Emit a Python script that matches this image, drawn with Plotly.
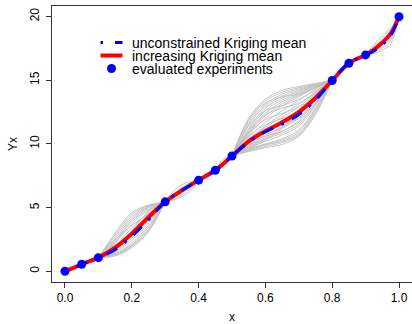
import plotly.graph_objects as go

# ---------------- data ----------------
design_x = [0.0, 0.05, 0.1, 0.3, 0.4, 0.45, 0.5, 0.8, 0.85, 0.9, 1.0]
design_y = [0.0, 0.55, 1.07, 5.45, 7.15, 7.93, 9.05, 14.97, 16.33, 16.98, 19.98]

mean_x = [0.0, 0.05, 0.1, 0.15, 0.2, 0.25, 0.3, 0.35, 0.4, 0.45, 0.5, 0.55, 0.6,
          0.65, 0.7, 0.75, 0.8, 0.85, 0.9, 0.925, 0.95, 0.975, 1.0]
increasing_mean = [0.0, 0.55, 1.07, 1.85, 2.95, 4.25, 5.45, 6.35, 7.15, 7.93, 9.05,
                   10.2, 11.0, 11.7, 12.5, 13.6, 14.97, 16.33, 16.98, 17.4, 17.95,
                   18.65, 19.98]
unconstrained_mean = [0.0, 0.55, 1.07, 1.7, 2.75, 4.05, 5.45, 6.35, 7.15, 7.93, 9.05,
                      10.15, 10.95, 11.55, 12.3, 13.45, 14.97, 16.33, 16.98, 17.3,
                      17.8, 18.5, 19.98]

# simulated sample paths, per gap between design points
gap1_x = [0.1, 0.15, 0.2, 0.25, 0.3]
gap1_paths = [
    [1.07, 3.0, 4.6, 5.2, 5.45], [1.07, 2.7, 4.3, 5.1, 5.45], [1.07, 2.4, 4.0, 5.0, 5.45],
    [1.07, 2.2, 3.7, 4.8, 5.45], [1.07, 2.0, 3.4, 4.6, 5.45], [1.07, 1.9, 3.1, 4.4, 5.45],
    [1.07, 1.7, 2.8, 4.2, 5.45], [1.07, 1.6, 2.6, 4.0, 5.45], [1.07, 1.5, 2.4, 3.8, 5.45],
    [1.07, 1.4, 2.2, 3.6, 5.45], [1.07, 1.3, 2.0, 3.3, 5.45], [1.07, 1.2, 1.85, 3.1, 5.45],
    [1.07, 2.1, 3.0, 4.0, 5.45], [1.07, 1.8, 3.2, 4.7, 5.45], [1.07, 2.5, 3.6, 4.5, 5.45],
    [1.07, 2.85, 4.45, 5.15, 5.45], [1.07, 2.55, 4.15, 5.05, 5.45],
    [1.07, 1.35, 2.1, 3.45, 5.45], [1.07, 1.25, 1.95, 3.2, 5.45],
    [1.07, 2.3, 3.9, 4.9, 5.45],
]
gap2_x = [0.3, 0.325, 0.35, 0.375, 0.4]
gap2_paths = [
    [5.45, 6.3, 6.8, 7.05, 7.15], [5.45, 6.1, 6.6, 6.95, 7.15], [5.45, 5.95, 6.45, 6.85, 7.15],
    [5.45, 5.85, 6.3, 6.75, 7.15], [5.45, 5.75, 6.15, 6.6, 7.15], [5.45, 5.65, 6.0, 6.45, 7.15],
    [5.45, 5.6, 5.85, 6.3, 7.15], [5.45, 6.0, 6.3, 6.6, 7.15],
]
gap3_x = [0.5, 0.55, 0.6, 0.65, 0.7, 0.75, 0.8]
gap3_paths = [
    [9.05, 12.0, 13.5, 14.2, 14.5, 14.75, 14.97], [9.05, 11.6, 13.1, 13.9, 14.3, 14.65, 14.97],
    [9.05, 11.2, 12.8, 13.6, 14.1, 14.6, 14.97], [9.05, 11.0, 12.4, 13.3, 13.9, 14.5, 14.97],
    [9.05, 10.7, 12.0, 13.0, 13.7, 14.4, 14.97], [9.05, 10.5, 11.7, 12.6, 13.4, 14.3, 14.97],
    [9.05, 10.3, 11.4, 12.3, 13.1, 14.1, 14.97], [9.05, 10.6, 11.5, 12.0, 12.6, 13.8, 14.97],
    [9.05, 10.2, 11.0, 11.8, 12.7, 13.9, 14.97], [9.05, 10.0, 10.9, 11.6, 12.3, 13.6, 14.97],
    [9.05, 9.9, 10.7, 11.3, 12.0, 13.4, 14.97], [9.05, 10.4, 11.2, 11.6, 12.0, 13.2, 14.97],
    [9.05, 9.8, 10.4, 11.0, 11.7, 13.2, 14.97], [9.05, 9.7, 10.2, 10.7, 11.4, 13.0, 14.97],
    [9.05, 9.6, 10.0, 10.4, 11.1, 12.8, 14.97], [9.05, 9.5, 9.9, 10.2, 10.8, 12.6, 14.97],
    [9.05, 9.4, 9.7, 9.95, 10.6, 12.3, 14.97], [9.05, 10.9, 12.3, 12.8, 13.2, 14.0, 14.97],
    [9.05, 11.4, 12.6, 13.0, 13.5, 14.2, 14.97], [9.05, 9.9, 10.5, 11.3, 12.4, 13.9, 14.97],
    [9.05, 10.1, 10.6, 11.0, 11.8, 13.5, 14.97], [9.05, 11.8, 13.2, 13.7, 13.9, 14.4, 14.97],
    [9.05, 10.8, 11.9, 12.4, 12.9, 13.7, 14.97], [9.05, 9.6, 10.3, 11.2, 12.2, 13.8, 14.97],
    [9.05, 11.9, 13.35, 14.05, 14.4, 14.7, 14.97], [9.05, 11.5, 12.95, 13.75, 14.2, 14.6, 14.97],
    [9.05, 10.85, 12.2, 13.15, 13.8, 14.45, 14.97], [9.05, 9.45, 9.8, 10.1, 10.7, 12.45, 14.97],
    [9.05, 9.55, 9.95, 10.3, 10.95, 12.7, 14.97], [9.05, 10.35, 11.3, 12.1, 12.9, 14.0, 14.97],
    [9.05, 9.75, 10.35, 10.85, 11.55, 13.1, 14.97], [9.05, 11.1, 12.6, 13.45, 14.0, 14.55, 14.97],
]
gap4_x = [0.9, 0.925, 0.95, 0.975, 1.0]
gap4_paths = [
    [16.98, 17.8, 18.5, 19.1, 19.98], [16.98, 17.65, 18.3, 18.95, 19.98],
    [16.98, 17.5, 18.1, 18.8, 19.98], [16.98, 17.4, 17.9, 18.6, 19.98],
    [16.98, 17.3, 17.7, 18.35, 19.98], [16.98, 17.2, 17.5, 18.1, 19.98],
    [16.98, 17.1, 17.35, 17.85, 19.98],
]
small_x = [[0.0, 0.025, 0.05], [0.05, 0.075, 0.1], [0.4, 0.425, 0.45],
           [0.45, 0.475, 0.5], [0.8, 0.825, 0.85], [0.85, 0.875, 0.9]]
small_paths = [
    [[0.0, 0.2, 0.55], [0.0, 0.35, 0.55]],
    [[0.55, 0.75, 1.07], [0.55, 0.9, 1.07]],
    [[7.15, 7.45, 7.93], [7.15, 7.7, 7.93]],
    [[7.93, 8.3, 9.05], [7.93, 8.8, 9.05]],
    [[14.97, 15.5, 16.33], [14.97, 15.9, 16.33]],
    [[16.33, 16.55, 16.98], [16.33, 16.8, 16.98]],
]

x_ticks = [0.0, 0.2, 0.4, 0.6, 0.8, 1.0]
x_tick_text = ["0.0", "0.2", "0.4", "0.6", "0.8", "1.0"]
y_ticks = [0, 5, 10, 15, 20]
y_tick_text = ["0", "5", "10", "15", "20"]

legend_labels = ["unconstrained Kriging mean", "increasing Kriging mean",
                 "evaluated experiments"]

# ---------------- figure ----------------
W, H = 412, 324
ML, MR, MT, MB = 52, 0, 6, 42
FONT = "Liberation Sans, Arial, Helvetica, sans-serif"


def px_x(p):
    return (p - ML) / (W - ML - MR)


def px_y(p):
    return (H - MB - p) / (H - MT - MB)


fig = go.Figure()

gray_x, gray_y = [], []
for gx, paths in [(gap1_x, gap1_paths), (gap2_x, gap2_paths),
                  (gap3_x, gap3_paths), (gap4_x, gap4_paths)]:
    for p in paths:
        gray_x += gx + [None]
        gray_y += p + [None]
for gx, paths in zip(small_x, small_paths):
    for p in paths:
        gray_x += gx + [None]
        gray_y += p + [None]

fig.add_trace(go.Scatter(x=gray_x, y=gray_y, mode="lines",
                         line=dict(color="#bebebe", width=0.9, shape="spline"),
                         connectgaps=False, hoverinfo="skip", showlegend=False))
fig.add_trace(go.Scatter(x=mean_x, y=increasing_mean, mode="lines",
                         line=dict(color="#ff0000", width=4, shape="spline"),
                         showlegend=False))
fig.add_trace(go.Scatter(x=mean_x, y=unconstrained_mean, mode="lines",
                         line=dict(color="#0000ff", width=3, shape="spline",
                                   dash="3px,9px,12px,9px"),
                         showlegend=False))
fig.add_trace(go.Scatter(x=design_x, y=design_y, mode="markers",
                         marker=dict(color="#0000ff", size=9), showlegend=False))

# manual legend (R style)
rows = [42.5, 55.5, 68.5]
shapes = [
    dict(type="line", xref="paper", yref="paper", x0=px_x(100.5), x1=px_x(103),
         y0=px_y(rows[0]), y1=px_y(rows[0]), line=dict(color="#0000ff", width=3)),
    dict(type="line", xref="paper", yref="paper", x0=px_x(115), x1=px_x(122.5),
         y0=px_y(rows[0]), y1=px_y(rows[0]), line=dict(color="#0000ff", width=3)),
    dict(type="line", xref="paper", yref="paper", x0=px_x(100.5), x1=px_x(122.5),
         y0=px_y(rows[1]), y1=px_y(rows[1]), line=dict(color="#ff0000", width=4)),
    dict(type="circle", xref="paper", yref="paper", xsizemode="pixel",
         ysizemode="pixel", xanchor=px_x(111.5), yanchor=px_y(rows[2]),
         x0=-4.5, x1=4.5, y0=-4.5, y1=4.5, fillcolor="#0000ff",
         line=dict(width=0)),
]
annotations = []
for lab, r in zip(legend_labels, rows):
    annotations.append(dict(text=lab, xref="paper", yref="paper", x=px_x(130),
                            y=px_y(r + 0.8), xanchor="left", yanchor="middle",
                            showarrow=False, font=dict(size=14, color="#000",
                                                       family=FONT)))
annotations.append(dict(text="x", xref="paper", yref="paper", x=px_x(232),
                        y=px_y(317), xanchor="center", yanchor="middle",
                        showarrow=False, font=dict(size=12, color="#000", family=FONT)))
annotations.append(dict(text="Yx", xref="paper", yref="paper", x=px_x(13),
                        y=px_y(144), xanchor="center", yanchor="middle",
                        textangle=-90, showarrow=False,
                        font=dict(size=12, color="#000", family=FONT)))

axis_common = dict(showgrid=False, zeroline=False, showline=True, mirror=True,
                   linecolor="#333333", linewidth=1, ticks="outside", ticklen=5,
                   tickwidth=1, tickcolor="#333333",
                   tickfont=dict(size=12, color="#000", family=FONT))

fig.update_layout(
    width=W, height=H,
    margin=dict(l=ML, r=MR, t=MT, b=MB, pad=0),
    paper_bgcolor="white", plot_bgcolor="white",
    xaxis=dict(range=[-0.0389, 1.0389], tickvals=x_ticks, ticktext=x_tick_text,
               **axis_common),
    yaxis=dict(range=[-0.84, 20.82], tickvals=y_ticks, ticktext=y_tick_text,
               tickangle=-90, ticklabelstandoff=2, **axis_common),
    shapes=shapes, annotations=annotations,
    showlegend=False,
)

fig.write_html("out.html")
